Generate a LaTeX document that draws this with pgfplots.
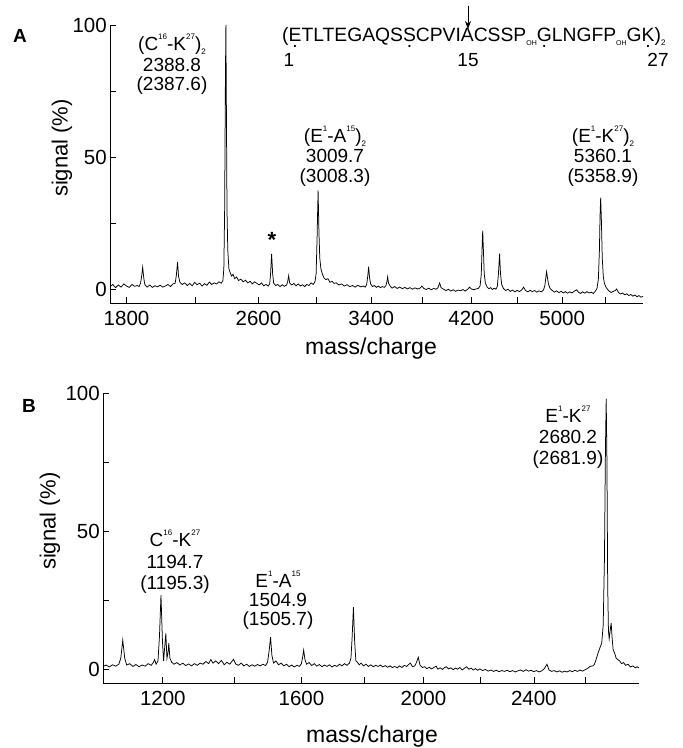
\documentclass[border=0pt]{standalone}
\usepackage{pgfplots}
\pgfplotsset{compat=1.18}
\usetikzlibrary{arrows.meta}
\usepackage{fontspec}
\setmainfont{Liberation Sans}

\newcommand\ud[1]{\ooalign{#1\cr\hidewidth\raisebox{-0.3em}{.}\hidewidth\cr}}
\newcommand\sps[1]{\raisebox{0.6em}{\fontsize{8}{8}\selectfont #1}}
\newcommand\sbs[1]{\raisebox{-0.2em}{\fontsize{8}{8}\selectfont #1}}
\newcommand\oh{\raisebox{-0.2em}{\fontsize{7}{7}\selectfont OH}}
\newcommand\annot[3]{\node[anchor=base, inner sep=0pt, font=\fontsize{19}{19}\selectfont] at (#1,#2) {#3};}

\pgfplotsset{spec/.style={
  scale only axis, axis lines=left, axis line style={-, line width=0.8pt},
  tick align=inside, major tick length=6pt, tick style={line width=0.7pt, black},
  ymin=-5, ymax=100, ytick={0,25,50,75,100}, yticklabels={0,,50,,100},
  clip=false,
  x coord trafo/.code={\pgfmathparse{sqrt(##1)}},
  x coord inv trafo/.code={\pgfmathparse{(##1)^2}},
  /pgf/number format/assume math mode=true,
  tick label style={font=\fontsize{20.5}{21}\selectfont},
  yticklabel style={inner sep=0pt, xshift=-3pt},
  xticklabel style={inner sep=0pt, yshift=-8pt},
}}

\begin{document}
\begin{tikzpicture}[x=1pt,y=1pt]
\path[use as bounding box] (0pt,0pt) rectangle (683pt,748pt);

% ---------------- Panel A ----------------
\begin{axis}[spec, at={(110pt,445pt)}, anchor=south west, width=533pt, height=278pt,
  xmin=1710, xmax=5770,
  xtick={1800,2200,2600,3000,3400,3800,4200,4600,5000,5400},
  xticklabels={1800,,2600,,3400,,4200,,5000,}]
\addplot[black, line width=0.75pt] coordinates {
(1710,1.2)(1725,2.0)(1740,0.8)(1755,1.8)(1770,1.0)(1785,2.2)(1800,1.4)(1815,0.9)
(1830,2.0)(1845,1.3)(1860,1.6)(1870,1.2)(1878,2.5)(1884,5.0)(1890,8.5)(1896,4.5)
(1902,2.0)(1915,1.0)(1930,1.8)(1945,0.9)(1960,1.5)(1975,1.1)(1990,1.7)(2005,1.0)
(2020,1.4)(2035,2.0)(2050,1.2)(2065,2.2)(2078,2.5)(2085,5.5)(2092,10.5)(2098,5.0)
(2106,2.8)(2120,2.0)(2135,2.6)(2150,1.6)(2165,2.4)(2180,1.5)(2195,2.8)(2210,1.9)
(2225,2.5)(2240,1.4)(2255,2.3)(2270,1.7)(2285,2.9)(2300,2.0)(2315,2.6)(2330,2.2)
(2345,3.0)(2360,2.5)(2370,3.5)(2376,8)(2381,30)(2386,80)(2389,100)(2392,70)
(2396,30)(2401,15)(2408,8)(2416,6.5)(2425,5.2)(2435,5.8)(2445,4.2)(2458,4.8)
(2470,3.5)(2485,4.0)(2500,3.0)(2515,3.6)(2530,2.6)(2545,3.2)(2560,2.2)(2575,3.0)
(2590,2.4)(2605,1.8)(2620,2.6)(2635,1.5)(2650,2.0)(2665,1.4)(2675,2.2)(2681,6)
(2688,13.5)(2695,6)(2702,2.5)(2715,1.6)(2730,2.0)(2745,1.2)(2760,1.9)(2775,1.3)
(2790,1.8)(2797,3.0)(2804,5.3)(2811,2.5)(2825,1.8)(2840,2.4)(2855,1.5)(2870,2.2)
(2885,1.4)(2900,1.9)(2915,1.2)(2930,2.0)(2945,1.6)(2960,2.6)(2975,2.0)(2988,3.0)
(2996,6)(3003,20)(3010,37.5)(3016,22)(3022,12)(3030,8)(3040,6)(3052,4.5)
(3065,3.8)(3080,4.2)(3095,2.8)(3110,3.2)(3125,2.4)(3140,2.6)(3160,1.8)(3180,2.2)
(3200,1.4)(3220,1.9)(3240,1.2)(3260,1.6)(3280,1.0)(3300,1.7)(3320,1.1)(3340,1.4)
(3355,1.0)(3366,2.0)(3374,5)(3381,8.7)(3388,4.5)(3396,2.2)(3410,1.2)(3425,1.6)
(3440,0.9)(3455,1.4)(3470,0.8)(3485,1.2)(3500,0.9)(3512,1.5)(3520,3.0)(3526,4.9)
(3533,2.5)(3545,1.4)(3560,0.6)(3580,1.2)(3600,0.5)(3620,1.0)(3640,0.4)(3660,0.9)
(3680,0.3)(3700,0.8)(3720,0.2)(3740,0.7)(3760,0.3)(3780,0.6)(3795,1.4)(3810,0.5)
(3830,0.1)(3850,0.6)(3870,0.0)(3890,0.5)(3910,0.2)(3925,0.8)(3938,2.6)(3950,0.8)
(3970,0.2)(3990,-0.3)(4010,0.2)(4030,-0.5)(4050,0.0)(4070,-0.6)(4090,-0.1)(4110,-0.4)
(4130,0.1)(4150,-0.5)(4170,0.2)(4186,1.0)(4200,0.3)(4220,0.0)(4240,0.3)(4260,0.5)
(4275,1.5)(4285,6)(4292,16)(4297,22.3)(4303,15)(4310,6)(4320,2.5)(4335,1.0)
(4350,0.4)(4365,0.8)(4380,0.1)(4395,0.6)(4410,0.2)(4422,1.2)(4432,6)(4442,13.6)
(4450,6)(4460,2)(4475,0.5)(4495,-0.3)(4515,0.2)(4535,-0.6)(4555,-0.1)(4575,-0.8)
(4595,-0.2)(4615,-0.7)(4635,-0.1)(4652,1.0)(4670,-0.3)(4690,-0.8)(4710,-0.2)(4730,-0.7)
(4750,-0.3)(4770,-0.9)(4790,-0.4)(4810,-0.8)(4830,-0.1)(4842,1.5)(4851,4.5)(4858,6.8)
(4866,4.5)(4876,2.0)(4890,0.5)(4910,-0.3)(4930,-0.9)(4950,-0.4)(4970,-1.1)(4990,-0.6)
(5010,-1.2)(5030,-0.7)(5050,-1.3)(5070,-0.8)(5090,-1.2)(5110,-0.6)(5134,0.0)(5150,-0.9)
(5170,-1.4)(5190,-0.8)(5210,-1.3)(5230,-0.7)(5250,-1.2)(5270,-0.9)(5290,-1.4)(5310,-0.5)
(5325,0.5)(5338,4)(5348,15)(5354,28)(5360,34.8)(5367,26)(5375,12)(5385,5)
(5395,2.5)(5410,1.0)(5425,0.2)(5440,-0.5)(5460,-1.0)(5480,-0.6)(5500,-0.3)(5513,0.3)
(5530,-1.0)(5550,-1.6)(5570,-1.2)(5590,-1.9)(5610,-1.5)(5630,-2.2)(5650,-1.8)(5670,-2.4)
(5690,-2.0)(5710,-2.6)(5730,-2.2)(5750,-2.8)(5770,-2.5)
};
\end{axis}

% ---------------- Panel B ----------------
\begin{axis}[spec, at={(103pt,65pt)}, anchor=south west, width=536pt, height=290pt,
  xmin=1045, xmax=2815,
  xtick={1200,1400,1600,1800,2000,2200,2400,2600},
  xticklabels={1200,,1600,,2000,,2400,}]
\addplot[black, line width=0.75pt] coordinates {
(1045,1.0)(1053,1.5)(1061,0.8)(1069,1.6)(1077,1.1)(1085,1.8)(1090,4)(1095,10.5)
(1100,4)(1105,1.5)(1113,2.0)(1121,1.0)(1129,1.7)(1137,0.9)(1145,1.5)(1153,1.1)
(1161,2.0)(1169,1.4)(1175,2.5)(1178,3.5)(1182,1.8)(1187,3)(1191,12)(1195,26.8)
(1199,10)(1202,3)(1205,8)(1208,13)(1211,4)(1214,6)(1216,9.4)(1219,4)
(1224,2.5)(1230,1.8)(1238,2.4)(1246,1.5)(1254,2.2)(1262,1.3)(1270,1.9)(1278,1.2)
(1286,2.0)(1294,1.4)(1302,2.2)(1310,1.8)(1318,2.8)(1326,2.0)(1332,3.5)(1338,2.2)
(1346,3.0)(1354,2.0)(1362,3.2)(1370,1.6)(1378,2.5)(1386,1.8)(1392,2.8)(1397,3.6)
(1403,1.9)(1411,1.4)(1419,2.2)(1427,1.2)(1435,1.8)(1443,1.0)(1451,1.6)(1459,1.1)
(1467,1.7)(1475,1.2)(1483,1.8)(1491,1.3)(1497,2.5)(1502,7)(1506,11.6)(1510,5)
(1515,2.2)(1522,3.0)(1530,1.6)(1538,2.2)(1546,1.2)(1554,1.8)(1562,0.9)(1570,1.5)
(1578,0.8)(1586,1.4)(1594,1.0)(1600,2.0)(1604,4.5)(1607,6.9)(1611,3.5)(1616,1.8)
(1624,2.4)(1632,1.3)(1640,2.0)(1648,1.1)(1656,1.7)(1664,0.9)(1672,1.5)(1680,1.0)
(1688,1.6)(1696,0.8)(1704,1.4)(1712,1.0)(1720,1.8)(1728,1.2)(1736,2.0)(1744,1.4)
(1752,2.2)(1757,4)(1761,12)(1765,22.5)(1769,10)(1773,3)(1778,2.5)(1784,1.6)
(1790,2.2)(1798,1.2)(1806,1.8)(1814,1.0)(1822,1.6)(1830,0.9)(1838,1.4)(1846,1.0)
(1854,1.5)(1862,0.8)(1870,1.3)(1878,0.7)(1886,1.2)(1894,0.6)(1902,1.0)(1910,0.5)
(1918,1.2)(1926,0.6)(1934,1.4)(1942,1.0)(1950,1.8)(1955,2.2)(1962,0.9)(1970,1.2)
(1976,2.5)(1982,4.3)(1988,1.5)(1996,0.6)(2004,0.9)(2012,0.2)(2020,0.7)(2028,0.1)
(2036,0.6)(2044,1.1)(2050,0.0)(2058,0.5)(2066,-0.1)(2074,0.6)(2080,0.9)(2088,0.1)
(2096,0.5)(2104,-0.2)(2112,0.4)(2120,0.0)(2128,0.6)(2136,-0.3)(2144,0.3)(2152,0.9)
(2160,0.0)(2168,0.4)(2176,-0.3)(2184,0.2)(2192,-0.4)(2200,0.1)(2210,-0.5)(2220,-0.1)
(2230,-0.7)(2240,-0.3)(2250,-0.8)(2260,-0.4)(2270,-0.9)(2280,-0.5)(2290,-0.8)(2300,-0.4)
(2310,-0.9)(2320,-0.5)(2330,-1.0)(2340,-0.6)(2350,-0.3)(2360,-0.8)(2370,-0.2)(2380,-0.7)
(2390,-0.4)(2400,-0.9)(2410,-0.5)(2420,-1.0)(2430,-0.6)(2440,0.2)(2450,1.8)(2458,-0.3)
(2468,-0.8)(2478,-0.5)(2488,-1.0)(2498,-0.6)(2508,-1.1)(2518,-0.7)(2528,-1.0)(2538,-0.5)
(2548,-0.9)(2558,-0.4)(2568,-0.8)(2578,-0.3)(2588,-0.7)(2598,-0.2)(2608,0.3)(2618,1.0)
(2628,1.2)(2634,1.6)(2640,3.0)(2650,6)(2658,8)(2664,9.4)(2670,16)(2675,40)
(2679,80)(2682,98)(2685,75)(2688,30)(2691,14)(2694,11)(2698,14)(2702,16.7)
(2706,11)(2710,7)(2716,5.8)(2722,4.0)(2728,3.5)(2736,3.0)(2744,2.0)(2752,2.4)
(2760,1.4)(2770,1.8)(2780,0.8)(2790,1.2)(2800,0.5)(2808,0.9)(2815,0.4)
};
\end{axis}

% ---------------- labels ----------------
\node[anchor=base west, inner sep=0pt, font=\fontsize{19}{19}\selectfont\bfseries] at (13,705) {A};
\node[anchor=base west, inner sep=0pt, font=\fontsize{19}{19}\selectfont\bfseries] at (22,335) {B};
\node[rotate=90, inner sep=0pt, font=\fontsize{22}{22}\selectfont] at (62,600) {signal (\%)};
\node[rotate=90, inner sep=0pt, font=\fontsize{22}{22}\selectfont] at (50,227) {signal (\%)};
\node[inner sep=0pt, font=\fontsize{23}{23}\selectfont] at (371,399) {mass/charge};
\node[inner sep=0pt, font=\fontsize{23}{23}\selectfont] at (372,11) {mass/charge};

% sequence
\node[anchor=base west, inner sep=0pt, font=\fontsize{19.3}{20}\selectfont] at (282,706)
  {(\ud{E}TLTEGAQS\ud{S}CPVIACSSP\oh\ud{G}LNGFP\oh G\ud{K})\sbs{2}};
\node[anchor=base, inner sep=0pt, font=\fontsize{19}{20}\selectfont] at (289,681) {1};
\node[anchor=base, inner sep=0pt, font=\fontsize{19}{20}\selectfont] at (468,681) {15};
\node[anchor=base, inner sep=0pt, font=\fontsize{19}{20}\selectfont] at (658,681) {27};
\draw[-{Stealth[length=8pt,width=6pt]}, line width=0.8pt] (468,742) -- (468,719);

% panel A annotations
\annot{172}{697}{(C\sps{16}-K\sps{27})\sbs{2}}
\annot{172}{676}{2388.8}
\annot{172}{657}{(2387.6)}
\annot{335}{605}{(E\sps{1}-A\sps{15})\sbs{2}}
\annot{335}{585}{3009.7}
\annot{335}{565}{(3008.3)}
\annot{603}{605}{(E\sps{1}-K\sps{27})\sbs{2}}
\annot{603}{585}{5360.1}
\annot{603}{565}{(5358.9)}
\node[anchor=base, inner sep=0pt, font=\fontsize{22}{22}\selectfont\bfseries] at (272,500) {*};

% panel B annotations
\annot{175}{201}{C\sps{16}-K\sps{27}}
\annot{175}{179}{1194.7}
\annot{175}{158}{(1195.3)}
\annot{278}{160}{E\sps{1}-A\sps{15}}
\annot{278}{141}{1504.9}
\annot{278}{122}{(1505.7)}
\annot{568}{325}{E\sps{1}-K\sps{27}}
\annot{568}{304}{2680.2}
\annot{568}{283}{(2681.9)}
\end{tikzpicture}
\end{document}
